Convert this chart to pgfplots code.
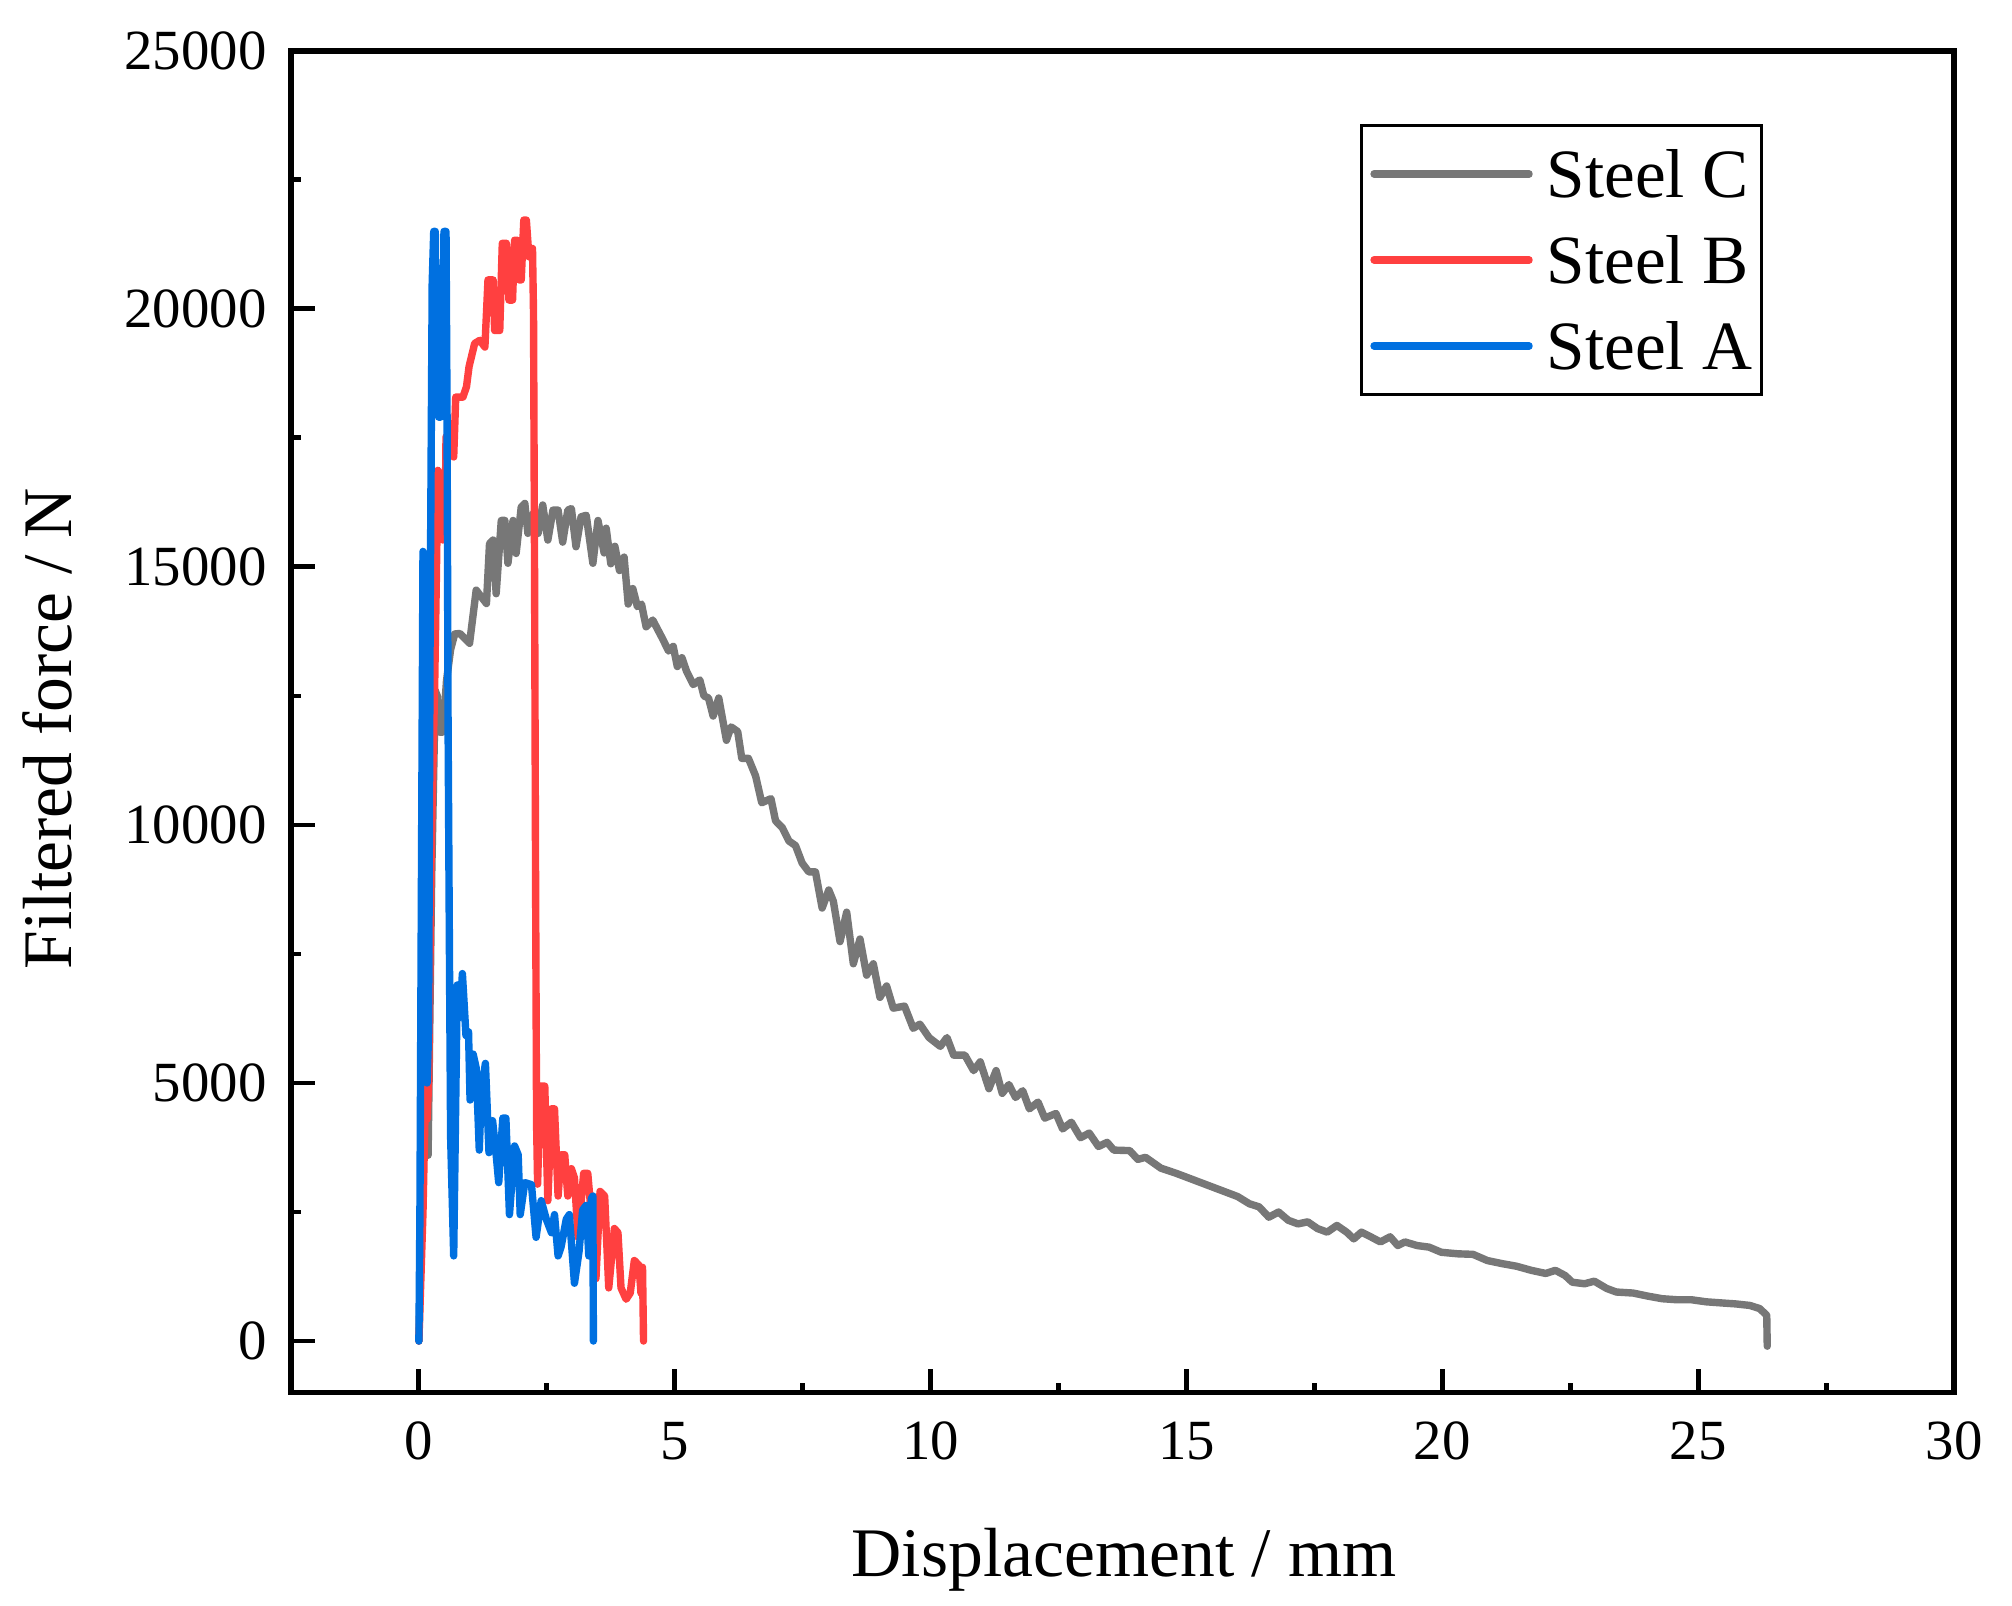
\documentclass[border=0pt]{standalone}
\usepackage{fontspec}
\setmainfont{Liberation Serif}
\usepackage{pgfplots}
\usepackage{pgfplotstable}
\pgfplotsset{compat=1.18}

\definecolor{steelC}{HTML}{777777}
\definecolor{steelB}{HTML}{FF4040}
\definecolor{steelA}{HTML}{0070E0}

% Steel C (gray)
\pgfplotstableread{
x y
0 0
0.10 4500
0.14 5200
0.18 3600
0.25 9000
0.32 12600
0.36 12500
0.40 11800
0.47 11800
0.54 12800
0.62 13400
0.70 13700
0.80 13710
0.99 13520
1.12 14550
1.32 14290
1.38 15450
1.45 15520
1.51 14480
1.61 15900
1.68 15900
1.74 15070
1.84 15900
1.90 15260
2.00 16160
2.07 16230
2.13 15650
2.23 16030
2.33 15650
2.42 16200
2.52 15520
2.62 16100
2.72 16100
2.81 15480
2.91 16100
2.98 16130
3.07 15390
3.17 15970
3.27 16000
3.40 15070
3.50 15900
3.62 15270
3.66 15750
3.75 15060
3.83 15400
3.92 14930
4.01 15190
4.09 14280
4.18 14580
4.27 14230
4.35 14280
4.44 13840
4.57 13970
4.75 13630
4.88 13370
4.97 13460
5.05 13070
5.14 13240
5.23 12980
5.36 12720
5.49 12810
5.57 12500
5.66 12460
5.75 12110
5.86 12460
6.01 11640
6.10 11900
6.23 11810
6.31 11290
6.44 11290
6.58 10950
6.70 10430
6.88 10510
6.97 10080
7.10 9950
7.23 9690
7.36 9600
7.49 9260
7.62 9090
7.75 9090
7.88 8390
8.01 8740
8.10 8520
8.23 7740
8.36 8310
8.49 7310
8.62 7790
8.75 7090
8.88 7310
9.01 6660
9.14 6880
9.27 6450
9.49 6490
9.66 6060
9.79 6140
9.97 5880
10.19 5710
10.32 5880
10.45 5540
10.67 5540
10.84 5240
10.97 5410
11.14 4890
11.28 5240
11.40 4800
11.53 4970
11.66 4720
11.80 4850
11.93 4500
12.10 4630
12.23 4320
12.45 4410
12.58 4110
12.75 4240
12.93 3940
13.10 4030
13.28 3770
13.45 3850
13.58 3700
13.89 3690
14.05 3520
14.20 3560
14.50 3350
14.80 3250
15.20 3100
15.60 2950
16.00 2800
16.23 2660
16.42 2600
16.61 2400
16.80 2500
16.99 2340
17.18 2270
17.37 2310
17.56 2180
17.75 2110
17.94 2240
18.13 2110
18.27 1980
18.42 2110
18.60 2020
18.79 1920
18.98 2020
19.13 1850
19.27 1920
19.51 1850
19.74 1820
19.98 1720
20.31 1690
20.60 1680
20.88 1560
21.17 1500
21.45 1450
21.74 1370
22.02 1310
22.21 1370
22.40 1270
22.54 1140
22.78 1110
22.97 1160
23.21 1020
23.40 950
23.73 930
24.02 870
24.30 820
24.59 800
24.87 800
25.16 760
25.44 740
25.73 720
26.01 690
26.20 630
26.34 500
26.35 -100
}\dataC

% Steel B (red)
\pgfplotstableread{
x y
0 0
0.08 2500
0.13 4900
0.16 4300
0.19 5000
0.24 9500
0.31 12800
0.34 14700
0.37 16870
0.44 16680
0.47 15520
0.51 15650
0.53 17520
0.57 17460
0.68 17130
0.72 18290
0.86 18290
0.93 18490
0.98 18880
1.09 19330
1.19 19390
1.29 19260
1.35 20560
1.45 20560
1.48 19580
1.58 19580
1.63 21270
1.71 21270
1.76 20170
1.83 20170
1.87 21330
1.92 21330
1.96 20560
2.00 20560
2.05 21720
2.10 21720
2.15 21010
2.22 21170
2.24 19910
2.26 15000
2.28 9000
2.30 4200
2.32 3040
2.37 4940
2.46 4940
2.52 2720
2.59 4500
2.65 4500
2.72 2810
2.78 3610
2.85 3610
2.91 2810
2.98 3340
3.04 3160
3.11 2010
3.22 3250
3.30 3250
3.37 2450
3.46 1210
3.54 2900
3.63 2810
3.71 1030
3.82 2180
3.89 2100
3.95 1030
4.05 810
4.13 930
4.21 1560
4.30 1470
4.34 930
4.37 1430
4.39 0
}\dataB

% Steel A (blue)
\pgfplotstableread{
x y
0 0
0.02 2500
0.05 9000
0.08 15300
0.11 15000
0.13 14000
0.16 5000
0.19 6000
0.22 14000
0.26 20500
0.29 21500
0.32 21500
0.34 19500
0.36 20800
0.39 17900
0.42 17900
0.44 20500
0.46 18500
0.49 21500
0.53 21500
0.55 18000
0.57 12000
0.60 7000
0.62 3960
0.68 1650
0.75 6900
0.80 6270
0.85 7120
0.92 5920
0.97 5990
1.00 4670
1.06 5560
1.12 5290
1.18 3700
1.22 4850
1.30 5380
1.37 3650
1.44 4270
1.51 3610
1.56 3070
1.64 4320
1.70 4320
1.77 2450
1.87 3780
1.94 3610
1.98 2450
2.07 3070
2.20 3030
2.29 2010
2.39 2720
2.49 2360
2.59 2100
2.65 2450
2.72 1650
2.78 1830
2.88 2360
2.94 2450
3.04 1120
3.13 1740
3.20 2540
3.27 2630
3.32 1650
3.37 2760
3.40 2810
3.41 0
}\dataA

\begin{document}
\begin{tikzpicture}
\begin{axis}[
    name=ax,
    scale only axis,
    width=415.8pt, height=335.5pt,
    xmin=-2.5, xmax=30,
    ymin=-1000, ymax=25000,
    xtick={0,5,...,30},
    ytick={0,5000,...,25000},
    minor x tick num=1,
    minor y tick num=1,
    xtick pos=bottom, ytick pos=left,
    tick align=inside,
    major tick length=6pt,
    minor tick length=2.5pt,
    every tick/.style={black, line width=1.2pt},
    axis line style={line width=1.4pt},
    scaled y ticks=false,
    /pgf/number format/assume math mode=true,
    /pgf/number format/1000 sep={},
    tick label style={font=\fontsize{14.2}{16}\selectfont},
    xticklabel style={yshift=-3.8pt},
    yticklabel style={xshift=-2.6pt},
    label style={font=\fontsize{17.4}{20}\selectfont},
    xlabel={Displacement / mm},
    ylabel={Filtered force / N},
    xlabel style={at={(axis description cs:0.501,-0.137)}, anchor=base},
    ylabel style={at={(axis description cs:-0.132,0.495)}, anchor=base},
    legend cell align=left,
    legend image code/.code={\draw[#1, line cap=round] (0pt,0pt) -- (38.75pt,0pt);},
    legend style={at={(0.885,0.9455)}, anchor=north east,
        draw=black, line width=0.8pt,
        inner xsep=2.2pt, inner ysep=6.2pt,
        row sep=9.7pt, column sep=3.5pt,
        font=\fontsize{17.3}{20}\selectfont,
        nodes={inner sep=0pt, text height=11.8pt, text depth=0pt}},
    every axis plot/.append style={line width=1.85pt, line join=round, line cap=round},
]
\addplot[steelC] table[x=x, y=y] {\dataC};
\addlegendentry{Steel C}
\addplot[steelB] table[x=x, y=y] {\dataB};
\addlegendentry{Steel B}
\addplot[steelA] table[x=x, y=y] {\dataA};
\addlegendentry{Steel A}
\end{axis}
\path ([xshift=-72.75pt,yshift=-53.3pt]ax.south west) rectangle ([xshift=14.5pt,yshift=12.7pt]ax.north east);
\end{tikzpicture}
\end{document}
